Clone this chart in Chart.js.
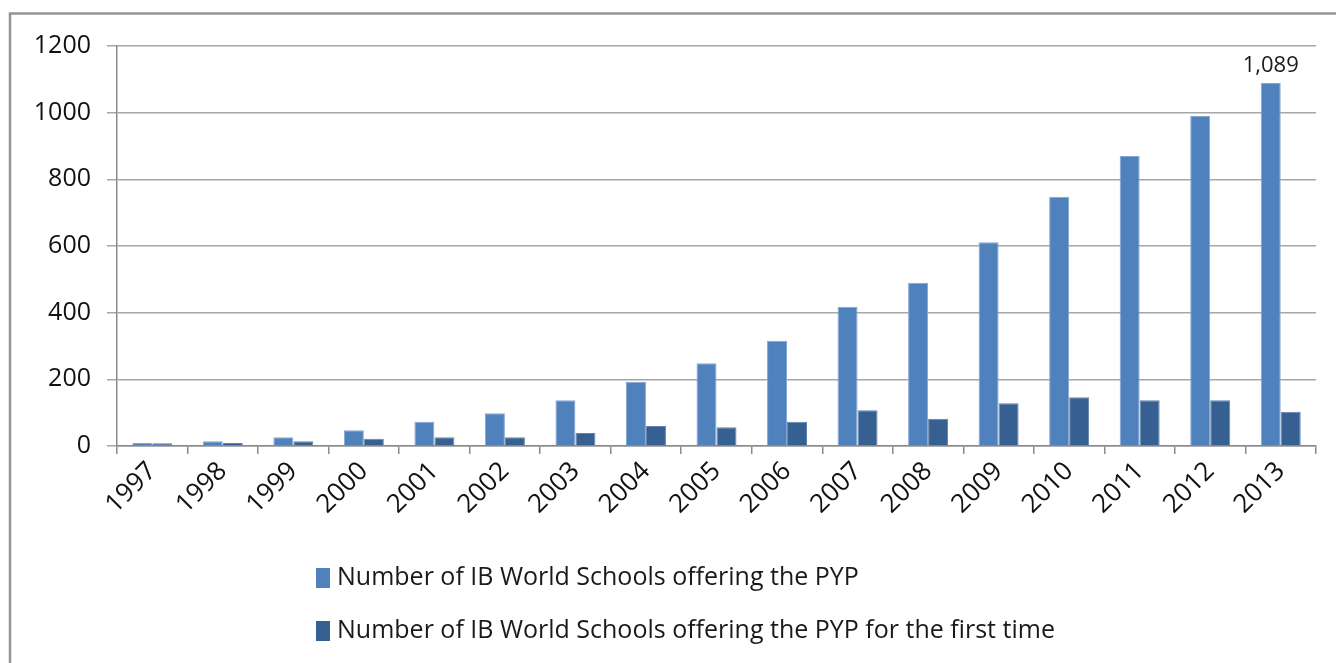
<!DOCTYPE html>
<html>
<head>
<meta charset="utf-8">
<script src="https://cdn.jsdelivr.net/npm/chart.js@4.4.1/dist/chart.umd.min.js"></script>
<style>
  html, body { margin: 0; padding: 0; background: #ffffff; }
  #wrap { position: relative; width: 1336px; height: 663px; }
</style>
</head>
<body>
<div id="wrap"><canvas id="c"></canvas></div>
<script>
// ---- data ----
const categories = ['1997','1998','1999','2000','2001','2002','2003','2004','2005','2006','2007','2008','2009','2010','2011','2012','2013'];
const seriesNames = ['Number of IB World Schools offering the PYP', 'Number of IB World Schools offering the PYP for the first time'];
const totalSchools = [9, 14, 26, 47, 73, 98, 137, 193, 248, 316, 418, 490, 611, 748, 870, 990, 1089];
const firstTimeSchools = [8, 9, 14, 22, 26, 26, 39, 60, 56, 73, 107, 82, 128, 146, 137, 137, 103];
const yTicks = [0, 200, 400, 600, 800, 1000, 1200];
const labelledPoint = { dataset: 0, index: 16 };

const FONT = '"Open Sans", "Noto Sans", sans-serif';

const framePlugin = {
  id: 'frame',
  beforeDraw(chart) {
    const ctx = chart.ctx;
    ctx.save();
    ctx.strokeStyle = '#959595';
    ctx.lineWidth = 2.5;
    ctx.beginPath();
    ctx.moveTo(10, chart.height + 5);
    ctx.lineTo(10, 13.5);
    ctx.lineTo(chart.width + 5, 13.5);
    ctx.stroke();
    ctx.restore();
  }
};

const valueLabelPlugin = {
  id: 'valueLabel',
  afterDatasetsDraw(chart) {
    const meta = chart.getDatasetMeta(labelledPoint.dataset);
    const bar = meta.data[labelledPoint.index];
    const v = chart.data.datasets[labelledPoint.dataset].data[labelledPoint.index];
    const ctx = chart.ctx;
    ctx.save();
    ctx.font = '22px ' + FONT;
    ctx.fillStyle = '#1a1a1a';
    ctx.textAlign = 'center';
    ctx.textBaseline = 'bottom';
    ctx.fillText(v.toLocaleString('en-US'), bar.x, bar.y - 6);
    ctx.restore();
  }
};

const legendPlugin = {
  id: 'customLegend',
  afterDraw(chart) {
    const ctx = chart.ctx;
    ctx.save();
    ctx.font = '25px ' + FONT;
    ctx.textBaseline = 'middle';
    ctx.textAlign = 'left';
    const rows = [578, 631];
    chart.data.datasets.forEach((ds, i) => {
      const cy = rows[i];
      ctx.fillStyle = ds.backgroundColor;
      ctx.fillRect(316, cy - 10, 14, 20);
      ctx.fillStyle = '#1a1a1a';
      ctx.fillText(ds.label, 337, cy);
    });
    ctx.restore();
  }
};

new Chart(document.getElementById('c'), {
  type: 'bar',
  data: {
    labels: categories,
    datasets: [
      { label: seriesNames[0], data: totalSchools, backgroundColor: '#4F81BD', borderColor: '#86A7D3', borderWidth: 1 },
      { label: seriesNames[1], data: firstTimeSchools, backgroundColor: '#376092', borderColor: '#6383AD', borderWidth: 1 }
    ]
  },
  options: {
    responsive: true,
    maintainAspectRatio: false,
    animation: false,
    layout: { padding: { top: 46, right: 20, left: 0, bottom: 0 } },
    datasets: { bar: { categoryPercentage: 0.567, barPercentage: 1.0 } },
    plugins: {
      legend: { display: false },
      tooltip: { enabled: false }
    },
    scales: {
      x: {
        afterFit(scale) { scale.height = 217; },
        grid: { display: true, drawOnChartArea: false, drawTicks: true, tickLength: 8, color: '#8a8a8a', lineWidth: 1.5, offset: true },
        border: { display: true, color: '#8a8a8a', width: 1.5 },
        ticks: {
          autoSkip: false, maxRotation: 45, minRotation: 45,
          color: '#111111', font: { family: FONT, size: 26 }, padding: 2
        }
      },
      y: {
        min: 0, max: 1200,
        afterFit(scale) { scale.width = 117; },
        afterBuildTicks(scale) { scale.ticks = yTicks.map(v => ({ value: v })); },
        grid: { color: '#a6a6a6', lineWidth: 1.5, tickLength: 10, drawTicks: true },
        border: { display: true, color: '#8a8a8a', width: 1.5 },
        ticks: {
          color: '#111111', font: { family: FONT, size: 25 }, padding: 16,
          callback: (v) => String(v)
        }
      }
    }
  },
  plugins: [framePlugin, valueLabelPlugin, legendPlugin]
});
</script>
</body>
</html>
